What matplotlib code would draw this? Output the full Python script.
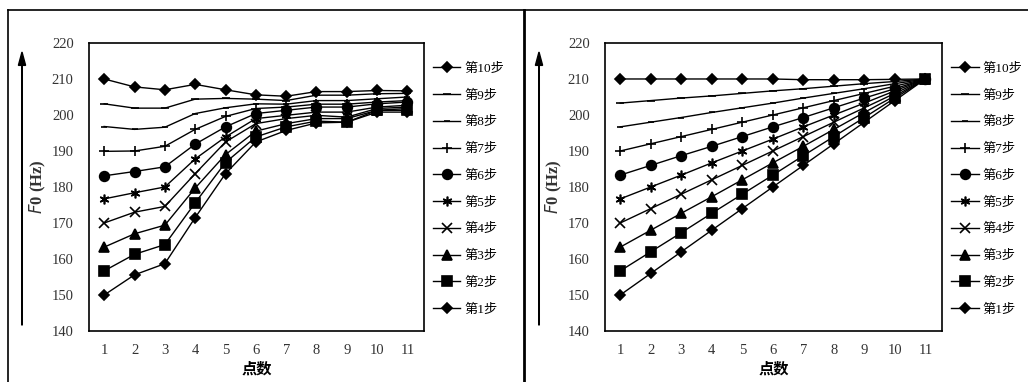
import matplotlib.pyplot as plt
from matplotlib.lines import Line2D

plt.rcParams['font.family'] = ['Liberation Serif', 'Noto Sans CJK SC']

points = list(range(1, 12))
labels = ['第10步', '第9步', '第8步', '第7步', '第6步', '第5步', '第4步', '第3步', '第2步', '第1步']

# left panel (步1..步10 -> index 0..9)
left_steps = [
    [150.0, 155.6, 158.7, 171.5, 183.7, 192.5, 195.7, 197.8, 198.0, 200.8, 200.8],
    [156.7, 161.3, 164.0, 175.6, 186.8, 193.9, 196.7, 198.3, 198.0, 201.3, 201.3],
    [163.3, 167.0, 169.4, 179.7, 189.0, 195.5, 197.6, 199.0, 199.0, 201.3, 201.8],
    [170.0, 173.0, 174.6, 183.7, 192.5, 197.6, 199.0, 199.9, 199.4, 201.8, 202.2],
    [176.7, 178.4, 180.0, 187.8, 193.9, 199.0, 199.9, 200.8, 200.8, 202.2, 202.7],
    [183.1, 184.3, 185.6, 191.9, 196.7, 200.4, 201.3, 202.2, 202.2, 203.1, 203.6],
    [189.9, 190.0, 191.3, 196.0, 199.6, 201.8, 202.2, 203.0, 203.0, 203.6, 204.0],
    [196.8, 196.0, 196.6, 200.4, 202.0, 203.1, 203.0, 204.0, 204.0, 204.5, 205.0],
    [203.1, 201.9, 201.9, 204.4, 204.6, 204.4, 204.0, 205.5, 205.5, 205.9, 206.0],
    [210.0, 207.8, 207.0, 208.5, 207.0, 205.6, 205.2, 206.5, 206.5, 206.8, 206.7],
]

# right panel
right_steps = [
    [150.0, 156.0, 162.0, 168.0, 174.0, 180.0, 186.0, 192.0, 198.0, 204.0, 210.0],
    [156.7, 162.0, 167.3, 172.7, 178.0, 183.3, 188.7, 194.0, 199.3, 204.7, 210.0],
    [163.3, 168.0, 172.7, 177.3, 182.0, 186.7, 191.3, 196.0, 200.7, 205.3, 210.0],
    [170.0, 174.0, 178.0, 182.0, 186.0, 190.0, 194.0, 198.0, 202.0, 206.0, 210.0],
    [176.7, 180.0, 183.3, 186.7, 190.0, 193.3, 196.7, 200.0, 203.3, 206.7, 210.0],
    [183.3, 186.0, 188.7, 191.3, 194.0, 196.7, 199.3, 202.0, 204.7, 207.3, 210.0],
    [190.0, 192.0, 194.0, 196.0, 198.0, 200.0, 202.0, 204.0, 206.0, 208.0, 210.0],
    [196.7, 198.0, 199.3, 200.7, 202.0, 203.3, 204.7, 206.0, 207.3, 208.7, 210.0],
    [203.3, 204.0, 204.7, 205.3, 206.0, 206.7, 207.3, 208.0, 208.7, 209.3, 210.0],
    [210.0, 210.0, 210.0, 210.0, 210.0, 210.0, 209.8, 209.8, 209.8, 209.9, 210.0],
]

# marker per step 1..10
markers = ['D', 's', '^', 'x', (6, 2, 0), 'o', '+', '_', '_', 'D']
msizes = [5, 6.5, 6.5, 6.5, 7, 7, 7, 4, 6, 5]

fig = plt.figure(figsize=(10.28, 3.82), dpi=100)

def draw(ax, steps):
    for i in range(9, -1, -1):
        ax.plot(points, steps[i], color='black', linewidth=1.0,
                marker=markers[i], markersize=msizes[i],
                markerfacecolor='black', markeredgecolor='black',
                markeredgewidth=1.2, label=labels[9 - i])
    ax.set_xlim(0.5, 11.55)
    ax.set_ylim(140, 220)
    ax.set_xticks(points)
    ax.set_yticks(range(140, 221, 10))
    ax.tick_params(length=0, labelsize=10.5, colors='#333333')
    ax.tick_params(axis='y', pad=11)
    ax.tick_params(axis='x', pad=9)
    for s in ax.spines.values():
        s.set_linewidth(1.2)
    ax.set_xlabel('点数', fontsize=11, fontweight='bold', labelpad=3,
                  family=['Noto Sans CJK SC'])
    ax.set_ylabel('$\\it{F}$0 (Hz)', fontsize=12, fontweight='bold', labelpad=3,
                  color='#333333')
    ax.legend(loc='upper left', bbox_to_anchor=(1.01, 0.95), frameon=False,
              labelspacing=1.1, handlelength=2.1,
              handletextpad=0.3, borderaxespad=0,
              prop={'family': ['Liberation Serif', 'Noto Sans CJK SC'], 'size': 9.5})

ax1 = fig.add_axes([0.0866, 0.1335, 0.326, 0.754])
draw(ax1, left_steps)
ax2 = fig.add_axes([0.5885, 0.1335, 0.328, 0.754])
draw(ax2, right_steps)

# frame lines and arrows
W, H = 1028, 382
def fx(x):
    return x / W
def fy(y):
    return 1 - y / H

fig.add_artist(Line2D([fx(8), 1], [fy(10), fy(10)], color='black', lw=1.2))
fig.add_artist(Line2D([fx(8), fx(8)], [fy(10), 0], color='black', lw=1.2))
fig.add_artist(Line2D([fx(524), fx(524)], [fy(10), 0], color='black', lw=2))

for xa in [22, 539]:
    fig.patches.append(plt.matplotlib.patches.FancyArrow(
        fx(xa), fy(325), 0, fy(52) - fy(325), width=0.0006,
        head_width=0.007, head_length=0.035, color='black',
        transform=fig.transFigure, figure=fig, length_includes_head=True))

fig.savefig('out.png', dpi=100)
